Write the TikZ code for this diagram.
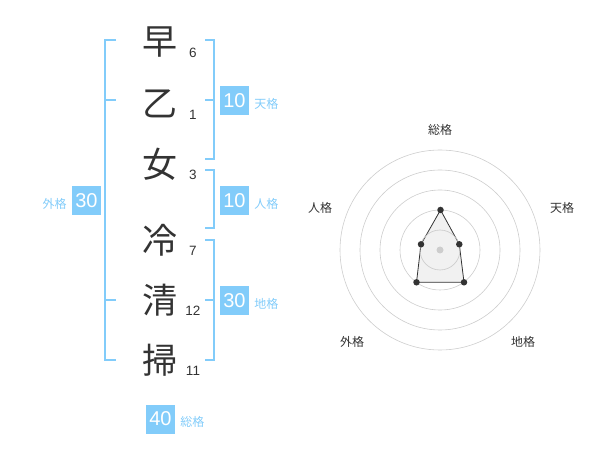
\documentclass[tikz,border=0pt]{standalone}
\usepackage{fontspec}
\setmainfont{Liberation Sans}
\newfontfamily\jpfont{Noto Sans CJK JP}
\usepackage{tikz}
\usetikzlibrary{positioning, calc}
\definecolor{KakuBlue}{RGB}{130,204,250}
\definecolor{InkGray}{RGB}{51,51,51}
\definecolor{RingGray}{RGB}{205,205,205}
\definecolor{AreaGray}{RGB}{238,238,238}
\tikzset{every node/.style={inner sep=0pt, text=InkGray}, every path/.style={line cap=butt, line join=miter}}
\tikzset{
    kanji/.style={font=\jpfont\fontsize{35}{35}\selectfont},
    strokes/.style={font=\fontsize{13.5}{13.5}\selectfont},
    kakubox/.style={fill=KakuBlue, text=white, minimum size=29pt, font=\fontsize{20}{20}\selectfont},
    kakuname/.style={text=KakuBlue, font=\jpfont\fontsize{12}{12}\selectfont},
    bracket/.style={draw=KakuBlue, line width=2pt},
    ring/.style={draw=RingGray, line width=0.6pt},
    radarlabel/.style={font=\jpfont\fontsize{12}{12}\selectfont},
    vertex/.style={circle, fill=InkGray, minimum size=6.5pt}
}

\begin{document}
\begin{tikzpicture}[x=1pt, y=-1pt]
    \useasboundingbox (0,0) rectangle (600,470);

    \foreach \ch/\y/\nm/\st in {早/42/ka/6, 乙/104/kb/1, 女/164/kc/3, 冷/240/kd/7, 清/300/ke/12, 掃/360/kf/11} {
        \node [kanji] (\nm) at (160,\y) {\ch};
        \node [strokes] (\nm-n) at (193,\y+11) {\st};
    }

    \draw [bracket] (116,40) -- (105,40) -- (105,360) -- (116,360);
    \draw [bracket] (105,100) -- (116,100) (105,300) -- (116,300);
    \draw [bracket] (205,40) -- (214,40) -- (214,159) -- (205,159) (214,100) -- (205,100);
    \draw [bracket] (205,170) -- (214,170) -- (214,228) -- (205,228);
    \draw [bracket] (205,240) -- (214,240) -- (214,360) -- (205,360) (214,300) -- (205,300);

    \node [kakubox] (ten) at (234.5,100.5) {10};
    \node [kakuname, right=5pt of ten, yshift=-3pt] (ten-l) {天格};
    \node [kakubox] (jin) at (234.5,200.5) {10};
    \node [kakuname, right=5pt of jin, yshift=-3pt] (jin-l) {人格};
    \node [kakubox] (chi) at (234.5,300.5) {30};
    \node [kakuname, right=5pt of chi, yshift=-3pt] (chi-l) {地格};
    \node [kakubox] (gai) at (86.5,200.5) {30};
    \node [kakuname, left=5pt of gai, yshift=-3pt] (gai-l) {外格};
    \node [kakubox] (sou) at (160.5,419) {40};
    \node [kakuname, right=5pt of sou, yshift=-3pt] (sou-l) {総格};

    \coordinate (radar) at (440,250);
    \foreach \r in {20,40,...,100}
        \draw [ring] (radar) circle (\r);
    \coordinate (p-sou) at (440.5,210);
    \coordinate (p-ten) at (459.3,244.3);
    \coordinate (p-chi) at (464,282.3);
    \coordinate (p-gai) at (416.5,282.3);
    \coordinate (p-jin) at (421,244.3);
    \draw [fill=AreaGray, fill opacity=0.8, draw=InkGray, line width=0.8pt] (p-sou) -- (p-ten) -- (p-chi) -- (p-gai) -- (p-jin) -- cycle;
    \draw [ring] (radar) circle (20);
    \node [circle, fill=RingGray, minimum size=7pt] (mid) at (radar) {};
    \foreach \p in {sou,ten,chi,gai,jin}
        \node [vertex] (v-\p) at (p-\p) {};

    \node [radarlabel] (r-sou) at (440,130) {総格};
    \node [radarlabel] (r-ten) at (562,208) {天格};
    \node [radarlabel] (r-jin) at (320,208) {人格};
    \node [radarlabel] (r-gai) at (352,342) {外格};
    \node [radarlabel] (r-chi) at (523,342) {地格};
\end{tikzpicture}
\end{document}
